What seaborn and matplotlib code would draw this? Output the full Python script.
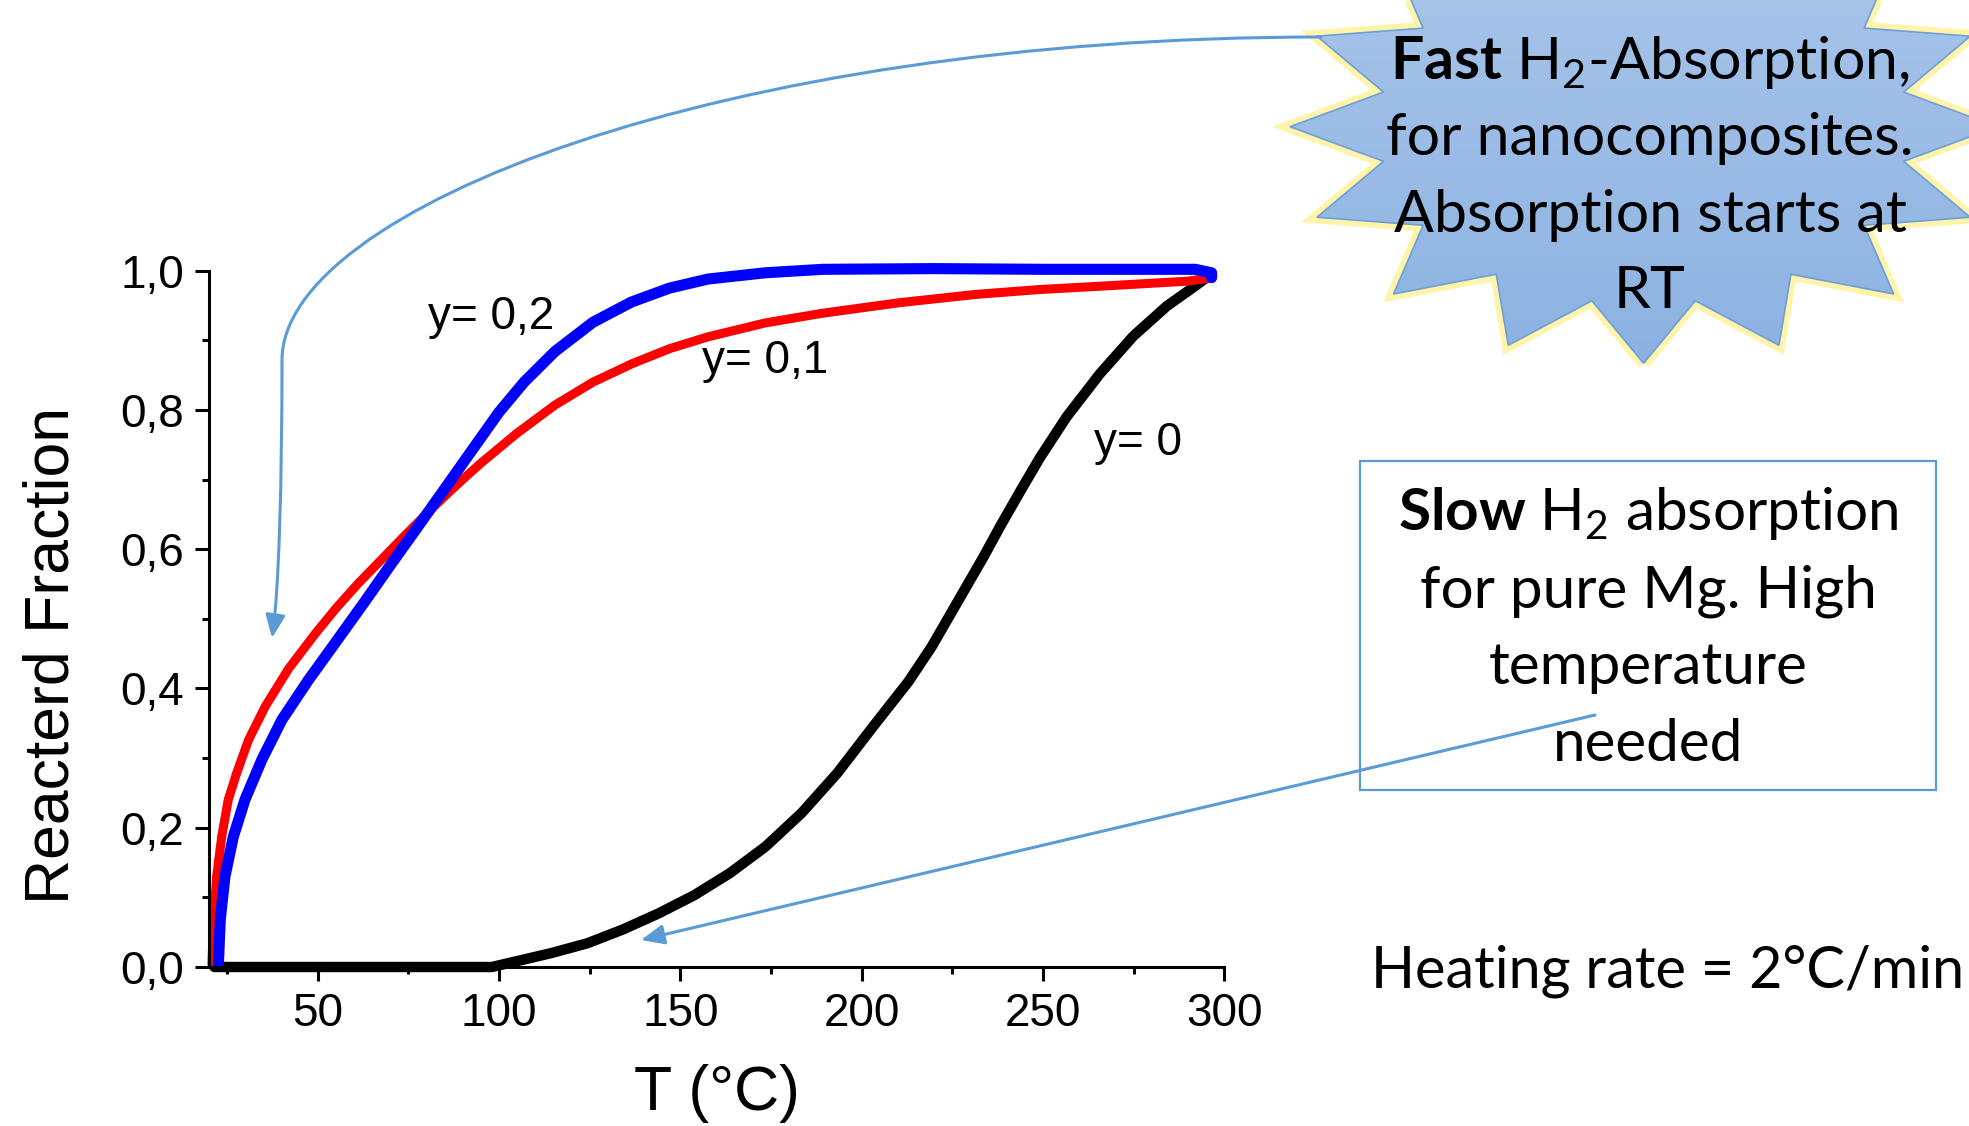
#!/usr/bin/env python3
"""
H2 absorption of Mg nanocomposites on heating (2 C/min).

Reacted fraction vs temperature for y = 0, 0.1 and 0.2, with the
two call-outs that go with the slide.
"""

import matplotlib
matplotlib.use("Agg")
import numpy as np
import pandas as pd
import matplotlib.pyplot as plt
import seaborn as sns
from matplotlib.path import Path
from matplotlib.patches import FancyArrowPatch, Polygon, Rectangle
from matplotlib.colors import LinearSegmentedColormap
from matplotlib.ticker import MultipleLocator, FuncFormatter

# y = 0 (pure Mg)
temp_y0 = [21.5, 98, 104.6, 114.4, 124.3, 134.2, 144.0, 153.8, 163.7, 173.5,
           183.4, 193.2, 203.1, 212.9, 219.3, 223.4, 228.5, 233.6, 238.1, 243.7,
           249.1, 256.5, 265.7, 274.9, 284.1, 290.6, 295.1]
frac_y0 = [0, 0, 0.008, 0.020, 0.034, 0.054, 0.077, 0.103, 0.135, 0.173,
           0.221, 0.278, 0.345, 0.410, 0.460, 0.497, 0.543, 0.589, 0.632, 0.683,
           0.731, 0.790, 0.852, 0.906, 0.949, 0.973, 0.990]

# y = 0,1
temp_y1 = [20.8, 21.2, 22.1, 23.5, 25.3, 27.6, 30.9, 35.5, 41.9, 49.2, 55.0,
           61.0, 66.8, 73.5, 80.6, 86.0, 91.4, 95.3, 104.8, 115.4, 125.9, 136.5,
           147.0, 157.6, 173.4, 189.3, 210.3, 231.5, 249.2, 270.0, 290.0, 296.5]
frac_y1 = [0.004, 0.058, 0.130, 0.187, 0.240, 0.278, 0.326, 0.374, 0.428, 0.478,
           0.515, 0.550, 0.581, 0.617, 0.654, 0.681, 0.707, 0.725, 0.766, 0.807,
           0.840, 0.866, 0.888, 0.905, 0.925, 0.939, 0.954, 0.966, 0.973, 0.979,
           0.985, 0.990]

# y = 0,2
temp_y2 = [22.6, 23.1, 24.4, 26.7, 29.9, 34.6, 40.1, 47.4, 55.7, 63.0, 70.0,
           77.0, 84.5, 92.5, 100.0, 106.9, 115.4, 125.9, 136.5, 147.0, 157.6,
           173.4, 189.3, 220.0, 250.0, 280.0, 292.0, 296.5, 296.5]
frac_y2 = [0.005, 0.068, 0.130, 0.187, 0.240, 0.298, 0.355, 0.412, 0.472, 0.525,
           0.577, 0.628, 0.683, 0.742, 0.797, 0.840, 0.884, 0.926, 0.955, 0.975,
           0.988, 0.997, 1.002, 1.003, 1.002, 1.002, 1.002, 0.997, 0.990]

curve_labels = ["y= 0", "y= 0,1", "y= 0,2"]
label_pos = [(276.2, 0.752), (173.3, 0.870), (97.8, 0.934)]

x_major = [50, 100, 150, 200, 250, 300]

star_lines = [r"$\mathbf{Fast}$ H$_2$-Absorption,", "for nanocomposites.",
              "Absorption starts at", "RT"]
box_lines = [r"$\mathbf{Slow}$ H$_2$ absorption", "for pure Mg. High",
             "temperature", "needed"]
rate_text = "Heating rate = 2°C/min"

W, H = 1969, 1126
callout_blue = "#5B9BD5"

sns.set_theme(style="ticks")
plt.rcParams["font.family"] = ["Liberation Sans", "DejaVu Sans"]
plt.rcParams["text.color"] = "black"
plt.rcParams["axes.labelcolor"] = "black"
plt.rcParams["mathtext.fontset"] = "custom"
plt.rcParams["mathtext.default"] = "regular"
plt.rcParams["mathtext.bf"] = "Lato:bold"

fig = plt.figure(figsize=(W / 100, H / 100), dpi=100)
ax = fig.add_axes([209 / W, 1 - 967 / H, (1224.3 - 209) / W, (967 - 270.7) / H])

series = [
    (temp_y0, frac_y0, "black", 7.5),
    (temp_y1, frac_y1, "#FF0000", 6.5),
    (temp_y2, frac_y2, "#0000FF", 8.0),
]
for temps, fracs, color, lw in series:
    df = pd.DataFrame({"T": temps, "frac": fracs})
    sns.lineplot(data=df, x="T", y="frac", sort=False, estimator=None,
                 color=color, linewidth=lw, ax=ax)
for line in ax.lines:
    line.set_clip_on(False)
    line.set_solid_capstyle("round")
    line.set_solid_joinstyle("round")

for text, (tx, ty) in zip(curve_labels, label_pos):
    ax.text(tx, ty, text, fontsize=33, ha="center", va="center", color="black")

ax.set_xlim(20, 300)
ax.set_ylim(0, 1.0)
ax.set_xticks(x_major)
ax.xaxis.set_minor_locator(MultipleLocator(25))
ax.yaxis.set_major_locator(MultipleLocator(0.2))
ax.yaxis.set_minor_locator(MultipleLocator(0.1))
ax.yaxis.set_major_formatter(FuncFormatter(lambda v, p: f"{v:.1f}".replace(".", ",")))
ax.set_xlabel("T (°C)", fontsize=45, labelpad=20)
ax.set_ylabel("Reacterd Fraction", fontsize=45)
ax.yaxis.set_label_coords(-0.126, 0.448)

sns.despine(ax=ax)
for side in ["left", "bottom"]:
    ax.spines[side].set_linewidth(2.2)
    ax.spines[side].set_color("black")
ax.tick_params(which="major", direction="out", length=10, width=2.2,
               labelsize=33, pad=8, colors="black")
ax.tick_params(which="minor", direction="out", length=5, width=2.2, colors="black")

# overlay in pixel coordinates for the call-outs
over = fig.add_axes([0, 0, 1, 1], zorder=5)
over.patch.set_alpha(0)
over.axis("off")

# 16 point star
cx, cy, rx, ry, inner = 1643.6, 126.7, 353.6, 236.6, 0.75
k = np.arange(32)
ang = np.deg2rad(k * 11.25)
rr = np.where(k % 2 == 0, 1.0, inner)
star_xy = np.column_stack([cx - rx * rr * np.sin(ang), cy + ry * rr * np.cos(ang)])

over.add_patch(Polygon(star_xy, closed=True, facecolor="none",
                       edgecolor="#FFF3A0", lw=9, alpha=0.9, zorder=1))
star_clip = Polygon(star_xy, closed=True, facecolor="none", edgecolor="none",
                    transform=over.transData)
over.add_patch(star_clip)
grad_cmap = LinearSegmentedColormap.from_list("star", ["#ADC8EB", "#8CB2E2"])
img = over.imshow(np.linspace(0, 1, 256).reshape(-1, 1), cmap=grad_cmap,
                  extent=(cx - rx, cx + rx, cy + ry, cy - ry), aspect="auto",
                  zorder=2)
img.set_clip_path(star_clip)
over.add_patch(Polygon(star_xy, closed=True, facecolor="none",
                       edgecolor="#6C9FD6", lw=1.2, zorder=3))

star_base = [79, 155, 231.7, 308]
for text, yb in zip(star_lines, star_base):
    over.text(1650, yb, text, fontsize=42.5, family="Lato", ha="center",
              va="baseline", zorder=4)

# box for pure Mg
over.add_patch(Rectangle((1360, 461), 576, 329, facecolor="none",
                         edgecolor=callout_blue, lw=1.6, zorder=3))
box_base = [530.4, 607, 684, 760.7]
for text, yb in zip(box_lines, box_base):
    over.text(1648, yb, text, fontsize=42, family="Lato", ha="center",
              va="baseline", zorder=4)

over.text(1668, 987.5, rate_text, fontsize=41.5, family="Lato", ha="center",
          va="baseline", zorder=4)

# curved arrow from the star to the nanocomposite curves
arc_path = Path(
    [(1321, 37), (721, 37), (282, 210), (282, 360),
     (282, 480), (279, 590), (272, 638)],
    [Path.MOVETO, Path.CURVE4, Path.CURVE4, Path.CURVE4,
     Path.CURVE4, Path.CURVE4, Path.CURVE4],
)
arrow_style = "-|>,head_length=0.7,head_width=0.3"
over.add_patch(FancyArrowPatch(path=arc_path, arrowstyle=arrow_style,
                               mutation_scale=20, lw=2.2, color=callout_blue,
                               transform=over.transData, zorder=4))
# straight arrow from the box to the pure Mg curve
over.add_patch(FancyArrowPatch(posA=(1595, 715), posB=(641, 940),
                               arrowstyle=arrow_style, mutation_scale=20,
                               lw=2.2, color=callout_blue,
                               shrinkA=0, shrinkB=0, zorder=4))

over.set_xlim(0, W)
over.set_ylim(H, 0)

fig.savefig("out.png", dpi=100)
